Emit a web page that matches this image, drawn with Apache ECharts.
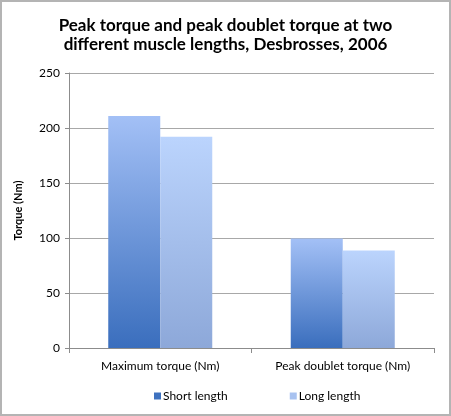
<!DOCTYPE html>
<html>
<head>
<meta charset="utf-8">
<script src="https://cdn.jsdelivr.net/npm/echarts@6/dist/echarts.min.js"></script>
<style>
  html, body { margin: 0; padding: 0; background: #fff; }
  #main { width: 451px; height: 416px; box-sizing: border-box; border: 2px solid #b4b4b4; }
</style>
</head>
<body>
<div id="main"></div>
<script>
// data
var categories = ['Maximum torque (Nm)', 'Peak doublet torque (Nm)'];
var shortLength = [211, 99.5];
var longLength = [192, 88.7];

var chart = echarts.init(document.getElementById('main'));

function grad(top, bottom) {
    return new echarts.graphic.LinearGradient(0, 0, 0, 1, [
        {offset: 0, color: top},
        {offset: 1, color: bottom}
    ]);
}

var option = {
    animation: false,
    textStyle: {fontFamily: 'Lato'},
    title: {
        text: 'Peak torque and peak doublet torque at two\ndifferent muscle lengths, Desbrosses, 2006',
        left: 'center',
        top: 9,
        textStyle: {fontFamily: 'Lato', fontWeight: 'bold', fontSize: 17, lineHeight: 19, color: '#000'}
    },
    legend: {
        bottom: 7,
        left: 147,
        itemWidth: 7,
        itemHeight: 7,
        itemGap: 62,
        icon: 'rect',
        textStyle: {fontFamily: 'Lato', fontSize: 12, color: '#000', padding: [0, 0, 0, -3]},
        data: [
            {name: 'Short length', itemStyle: {color: '#3e72bf'}},
            {name: 'Long length', itemStyle: {color: '#a8c2f0'}}
        ]
    },
    grid: {left: 67, right: 15, top: 71, bottom: 66},
    xAxis: {
        type: 'category',
        data: categories,
        axisLine: {lineStyle: {color: '#8c8c8c'}},
        axisTick: {show: true, length: 5, lineStyle: {color: '#8c8c8c'}},
        axisLabel: {fontFamily: 'Lato', fontSize: 12, color: '#000', margin: 12}
    },
    yAxis: {
        type: 'value',
        min: 0,
        max: 250,
        interval: 50,
        name: 'Torque (Nm)',
        nameLocation: 'middle',
        nameRotate: 90,
        nameGap: 45,
        nameTextStyle: {fontFamily: 'Lato', fontWeight: 'bold', fontSize: 11, color: '#000'},
        axisLine: {show: true, lineStyle: {color: '#8c8c8c'}},
        axisTick: {show: true, length: 4, lineStyle: {color: '#8c8c8c'}},
        axisLabel: {fontFamily: 'Lato', fontSize: 12, color: '#000', margin: 9},
        splitLine: {lineStyle: {color: '#a8a8a8'}}
    },
    series: [
        {
            name: 'Short length',
            type: 'bar',
            data: shortLength,
            barWidth: 52,
            barGap: '0%',
            itemStyle: {color: grad('#a3c0f6', '#3a6ebd')}
        },
        {
            name: 'Long length',
            type: 'bar',
            data: longLength,
            barWidth: 52,
            itemStyle: {color: grad('#bbd4fd', '#8da8d9')}
        }
    ]
};

chart.setOption(option);
</script>
</body>
</html>
